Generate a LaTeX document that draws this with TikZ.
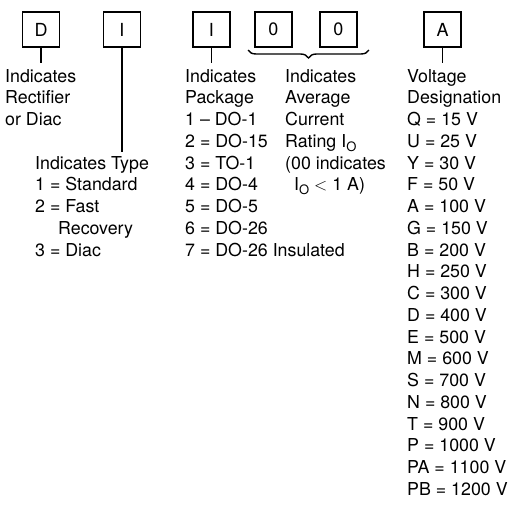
\documentclass[tikz,border=0pt]{standalone}
\usepackage{fontspec}
\setmainfont{TeX Gyre Heros}
\usetikzlibrary{decorations.pathreplacing}
\newcommand{\Io}{I\raisebox{-0.45ex}{\fontsize{13}{13}\selectfont O}}
\tikzset{
  box/.style={draw,line width=1.4pt,minimum width=37pt,minimum height=35pt,inner sep=0pt,font=\fontsize{18}{18}\selectfont},
  txt/.style={anchor=base west,inner sep=0pt,font=\fontsize{17.8}{20}\selectfont},
  conn/.style={line width=1.5pt},
}
\begin{document}
\begin{tikzpicture}[x=1pt,y=-1pt]
\useasboundingbox (0,0) rectangle (512,504);
% boxes
\node[box] (bD) at (41,29.5) {D};
\node[box] (bI) at (122,29.5) {I};
\node[box] (bP) at (211.5,29.5) {I};
\node[box] (bA0) at (273.5,29.5) {0};
\node[box] (bB0) at (338.5,29.5) {0};
\node[box] (bV) at (442.5,29.5) {A};
% connector ends
\coordinate (eD) at (41,63);
\coordinate (eI) at (122,152);
\coordinate (eP) at (211.5,63);
\coordinate (eV) at (442.5,63);
\draw[conn] (bD) -- (eD);
\draw[conn] (bI) -- (eI);
\draw[conn] (bP) -- (eP);
\draw[conn] (bV) -- (eV);
\coordinate (brL) at (248,50);
\coordinate (brR) at (369,50);
\draw[line width=1.4pt,decoration={brace,mirror,amplitude=8pt},decorate] (brL) -- (brR);
% column 1
\foreach \t [count=\i from 0] in {Indicates,Rectifier,or Diac}
  \node[txt] (c1l\i) at (5,{82+21.75*\i}) {\t};
% column 2
\node[txt] (c2l0) at (35,{82+21.75*4}) {Indicates Type};
\node[txt] (c2l1) at (35,{82+21.75*5}) {1 = Standard};
\node[txt] (c2l2) at (35,{82+21.75*6}) {2 = Fast};
\node[txt] (c2l3) at (58,{82+21.75*7}) {Recovery};
\node[txt] (c2l4) at (35,{82+21.75*8}) {3 = Diac};
% column 3
\foreach \t [count=\i from 0] in {Indicates,Package,1 -- DO-1,2 = DO-15,3 = TO-1,4 = DO-4,5 = DO-5,6 = DO-26,7 = DO-26 Insulated}
  \node[txt] (c3l\i) at (185,{82+21.75*\i}) {\t};
% column 4
\node[txt] (c4l0) at (285,{82+21.75*0}) {Indicates};
\node[txt] (c4l1) at (285,{82+21.75*1}) {Average};
\node[txt] (c4l2) at (285,{82+21.75*2}) {Current};
\node[txt] (c4l3) at (285,{82+21.75*3}) {Rating \Io};
\node[txt] (c4l4) at (285,{82+21.75*4}) {(00 indicates};
\node[txt] (c4l5) at (294,{82+21.75*5}) {\Io\ $<$ 1 A)};
% column 5
\foreach \t [count=\i from 0] in {Voltage,Designation,Q = 15 V,U = 25 V,Y = 30 V,F = 50 V,A = 100 V,G = 150 V,B = 200 V,H = 250 V,C = 300 V,D = 400 V,E = 500 V,M = 600 V,S = 700 V,N = 800 V,T = 900 V,P = 1000 V,PA = 1100 V,PB = 1200 V}
  \node[txt] (c5l\i) at (407,{82+21.75*\i}) {\t};
\end{tikzpicture}
\end{document}
